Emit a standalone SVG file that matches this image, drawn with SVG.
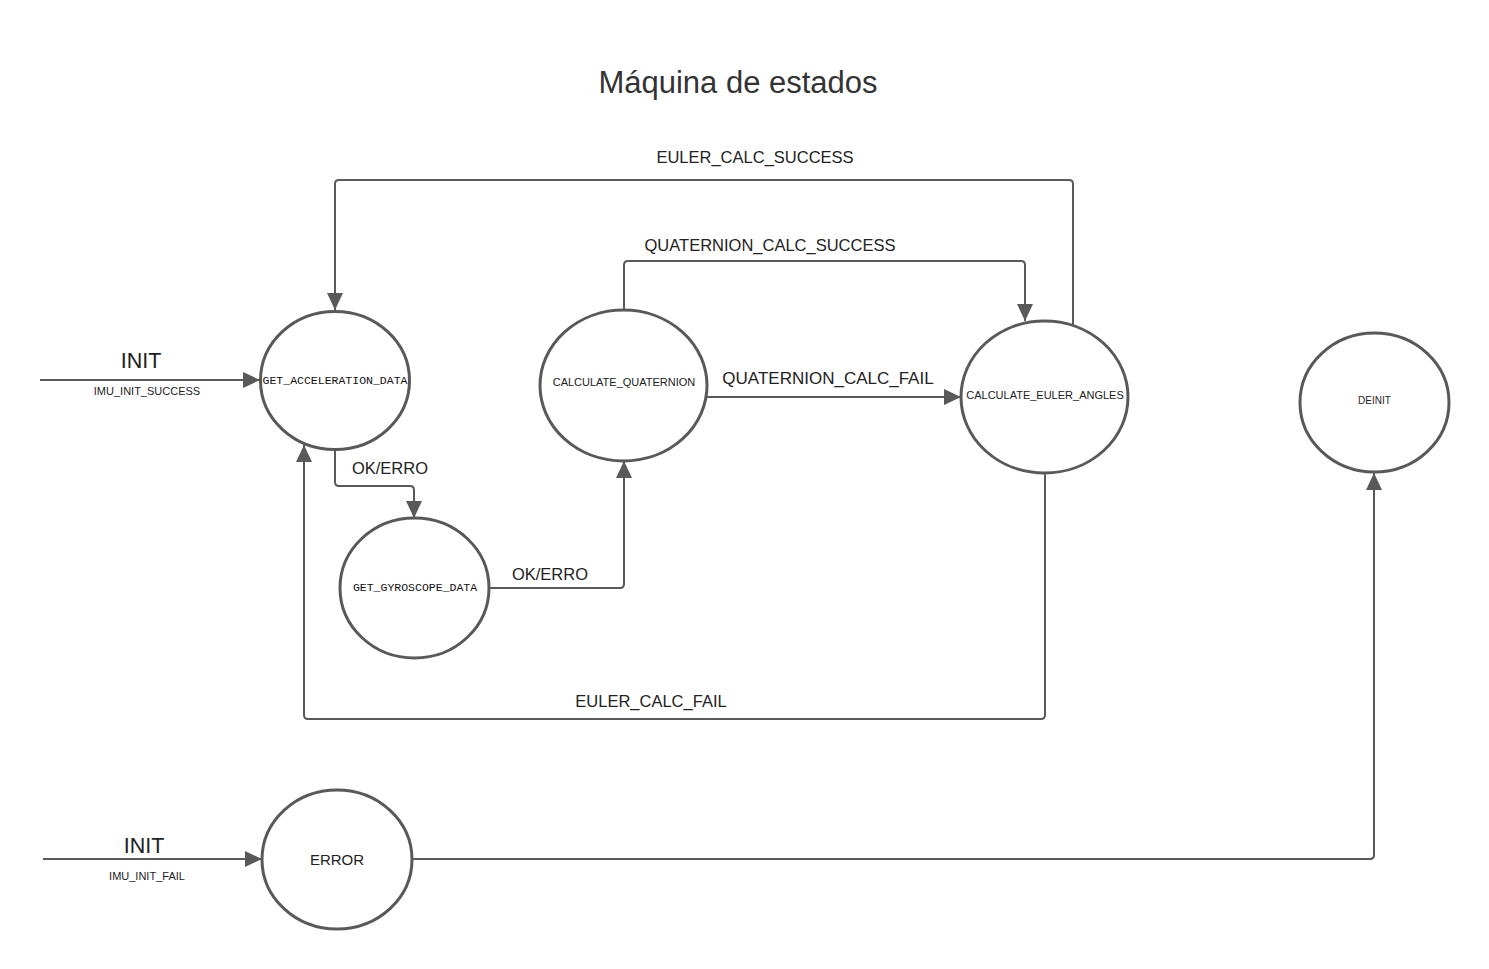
<svg xmlns="http://www.w3.org/2000/svg" width="1489" height="969" viewBox="0 0 1489 969">
<style>
.bg{fill:#ffffff}
.node{fill:#ffffff;stroke:#595959;stroke-width:3}
.edge{fill:none;stroke:#595959;stroke-width:2;stroke-linejoin:round}
.lbl{font-family:"Liberation Sans",Arial,sans-serif;fill:#222222;text-anchor:middle}
.mono{font-family:"Liberation Mono","DejaVu Sans Mono",monospace;fill:#111111;text-anchor:middle}
.title{font-family:"Liberation Sans",Arial,sans-serif;fill:#333333;font-size:31px;text-anchor:middle}
</style>
<defs>
<marker id="arr" markerUnits="userSpaceOnUse" markerWidth="19" markerHeight="17" refX="17" refY="8" orient="auto">
<path d="M0,0 L17,8 L0,16 Z" fill="#595959"/>
</marker>
</defs>
<rect class="bg" x="0" y="0" width="1489" height="969"/>
<text class="title" x="738" y="93">Máquina de estados</text>

<g id="connectors">
<path class="edge" d="M40,380 L260,380" marker-end="url(#arr)"/>
<path class="edge" d="M1073,325 L1073,184 Q1073,180 1069,180 L339,180 Q335,180 335,184 L335,310" marker-end="url(#arr)"/>
<path class="edge" d="M624,310 L624,265 Q624,261 628,261 L1021,261 Q1025,261 1025,265 L1025,321" marker-end="url(#arr)"/>
<path class="edge" d="M707,397 L961,397" marker-end="url(#arr)"/>
<path class="edge" d="M335,450 L335,482 Q335,486 339,486 L410,486 Q414,486 414,490 L414,518" marker-end="url(#arr)"/>
<path class="edge" d="M489,588 L620,588 Q624,588 624,584 L624,461" marker-end="url(#arr)"/>
<path class="edge" d="M1045,473 L1045,715 Q1045,719 1041,719 L308,719 Q304,719 304,715 L304,445" marker-end="url(#arr)"/>
<path class="edge" d="M412,859 L1370,859 Q1374,859 1374,855 L1374,473" marker-end="url(#arr)"/>
<path class="edge" d="M43,859 L262,859" marker-end="url(#arr)"/>

<text class="lbl" x="141" y="368" font-size="21.5">INIT</text>
<text class="lbl" x="147" y="395" font-size="11">IMU_INIT_SUCCESS</text>
<text class="lbl" x="755" y="163" font-size="16.5">EULER_CALC_SUCCESS</text>
<text class="lbl" x="770" y="251" font-size="16.5">QUATERNION_CALC_SUCCESS</text>
<text class="lbl" x="828" y="384" font-size="17">QUATERNION_CALC_FAIL</text>
<text class="lbl" x="390" y="474" font-size="16.5">OK/ERRO</text>
<text class="lbl" x="550" y="580" font-size="16.5">OK/ERRO</text>
<text class="lbl" x="651" y="707" font-size="16.5">EULER_CALC_FAIL</text>
<text class="lbl" x="144" y="853" font-size="21.5">INIT</text>
<text class="lbl" x="147" y="880" font-size="11">IMU_INIT_FAIL</text>
</g>

<g id="get_acceleration_data">
<ellipse class="node" cx="335" cy="380.5" rx="74.5" ry="69"/>
<text class="mono" x="335" y="384" font-size="11.5">GET_ACCELERATION_DATA</text>
</g>
<g id="get_gyroscope_data">
<ellipse class="node" cx="414.5" cy="588" rx="74.5" ry="70"/>
<text class="mono" x="415" y="591" font-size="11.5">GET_GYROSCOPE_DATA</text>
</g>
<g id="calculate_quaternion">
<ellipse class="node" cx="623.5" cy="385.5" rx="83.5" ry="75.5"/>
<text class="lbl" x="624" y="386" font-size="11" fill="#111">CALCULATE_QUATERNION</text>
</g>
<g id="calculate_euler_angles">
<ellipse class="node" cx="1044.5" cy="397" rx="83.5" ry="76"/>
<text class="lbl" x="1045" y="399" font-size="11" fill="#111">CALCULATE_EULER_ANGLES</text>
</g>
<g id="deinit">
<ellipse class="node" cx="1374.5" cy="402.5" rx="74.5" ry="69.5"/>
<text class="lbl" x="1374.5" y="404" font-size="10" fill="#111">DEINIT</text>
</g>
<g id="error">
<ellipse class="node" cx="337" cy="859.5" rx="75" ry="69.5"/>
<text class="lbl" x="337" y="864.5" font-size="15" fill="#333">ERROR</text>
</g>
</svg>
